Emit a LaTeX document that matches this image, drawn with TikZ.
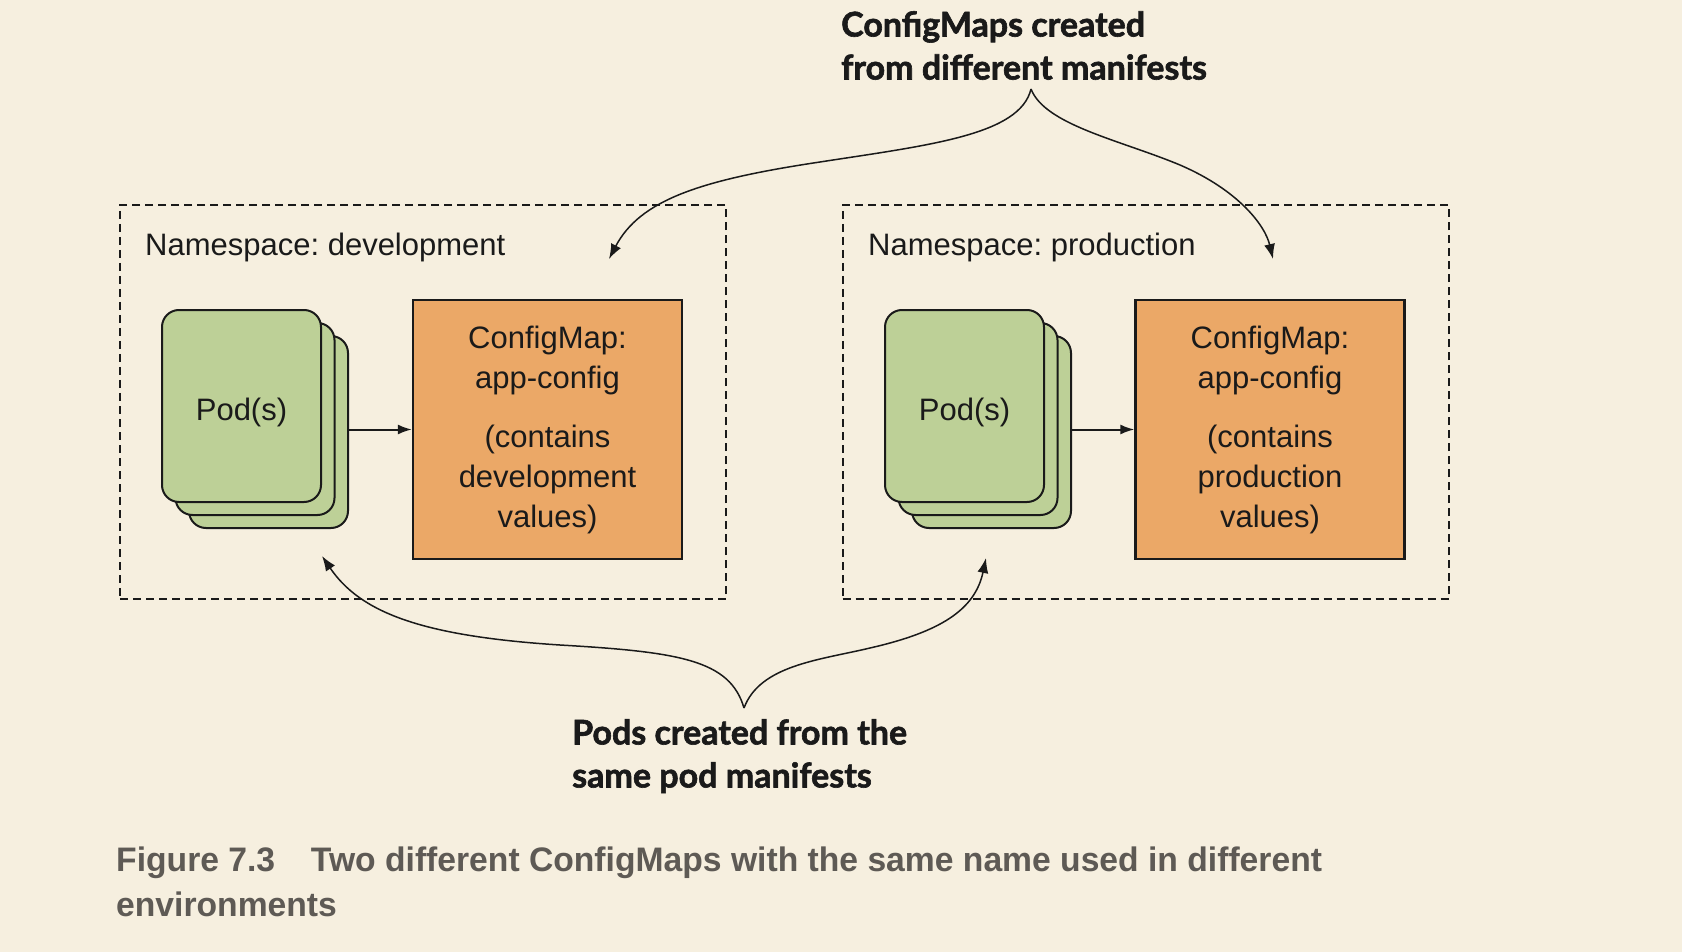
\documentclass[tikz,border=0pt]{standalone}
\usepackage{fontspec}
\setmainfont{Liberation Sans}
\newfontfamily\labelfont[BoldFeatures={FakeBold=1.8}]{Lato}
\newfontfamily\capfont[FakeStretch=0.99]{Liberation Sans Bold}
\usetikzlibrary{arrows.meta}
\definecolor{bg}{HTML}{F6EFDF}
\definecolor{podgreen}{HTML}{BDD097}
\definecolor{cmorange}{HTML}{EBA867}
\definecolor{capgray}{HTML}{5E5A55}
\definecolor{ink}{HTML}{1A1A1A}
\frenchspacing
\tikzset{
  nsbox/.style={draw=ink, line width=2pt, dash pattern=on 8pt off 5pt, minimum width=606pt, minimum height=394pt, inner sep=0pt},
  nslabel/.style={anchor=base west, inner sep=0pt, font=\fontsize{31}{38}\selectfont, text=ink},
  podcard/.style={draw=ink, line width=2pt, fill=podgreen, rounded corners=17pt, minimum width=159pt, minimum height=192pt, inner sep=0pt},
  cmbox/.style={draw=ink, line width=2.2pt, fill=cmorange, minimum width=269pt, minimum height=259pt, inner sep=0pt, align=center, font=\fontsize{31}{40}\selectfont, text=ink},
  bodytext/.style={font=\fontsize{31}{38}\selectfont, text=ink},
  biglabel/.style={anchor=north west, inner sep=0pt, align=left, font=\labelfont\bfseries\fontsize{34}{43}\selectfont, text=ink},
  curvearrow/.style={draw=ink, line width=1.5pt, -{Latex[length=15pt,width=11pt]}},
  podarrow/.style={draw=ink, line width=2pt, -{Latex[length=14pt,width=10pt]}},
}
\begin{document}
\begin{tikzpicture}[x=1pt,y=-1pt]
\useasboundingbox[fill=bg] (0,0) rectangle (1682,952);

% namespaces
\node[nsbox] (nsdev) at (423,402) {};
\node[nsbox] (nsprod) at (1145.5,402) {};
\node[nslabel] (nsdevlbl) at (145,256) {Namespace: development};
\node[nslabel] (nsprodlbl) at (868,256) {Namespace: production};

% dev pods
\node[podcard] (devpodc) at (268.5,432) {};
\node[podcard] (devpodb) at (255,419) {};
\node[podcard] (devpoda) at (241.5,406) {};
\node[bodytext] (devpodtxt) at (241.5,412) {Pod(s)};
\node[cmbox] (devcm) at (547.5,429.5) {ConfigMap:\\app-config\\[19pt](contains\\development\\values)};
\draw[podarrow] (devpodc.east |- devcm.west) -- (devcm.west);

% prod pods
\node[podcard] (prodpodc) at (991.5,432) {};
\node[podcard] (prodpodb) at (978,419) {};
\node[podcard] (prodpoda) at (964.5,406) {};
\node[bodytext] (prodpodtxt) at (964.5,412) {Pod(s)};
\node[cmbox] (prodcm) at (1270,429.5) {ConfigMap:\\app-config\\[19pt](contains\\production\\values)};
\draw[podarrow] (prodpodc.east |- prodcm.west) -- (prodcm.west);

% top label
\node[biglabel] (toplbl) at (841,11) {ConfigMaps created\\from different manifests};
\coordinate (toptip) at (1031,89);
\coordinate (devcmtarget) at (609,259);
\coordinate (prodcmtarget) at (1273,259);
\draw[curvearrow] (toptip) .. controls (1020,135) and (930,145) .. (820,162) .. controls (700,180) and (640,200) .. (devcmtarget);
\draw[curvearrow] (toptip) .. controls (1045,125) and (1120,140) .. (1180,165) .. controls (1238,190) and (1265,225) .. (prodcmtarget);

% bottom label
\node[biglabel] (botlbl) at (572,719) {Pods created from the\\same pod manifests};
\coordinate (bottip) at (744,708);
\coordinate (devpodtarget) at (322,556);
\coordinate (prodpodtarget) at (986,558);
\draw[curvearrow] (bottip) .. controls (730,660) and (680,652) .. (560,645) .. controls (420,636) and (360,612) .. (devpodtarget);
\draw[curvearrow] (bottip) .. controls (760,665) and (820,660) .. (870,648) .. controls (940,632) and (975,610) .. (prodpodtarget);

% caption
\node[anchor=north west, inner sep=0pt, align=left, text=capgray, font=\capfont\fontsize{34}{45}\selectfont] (caption) at (116,847) {Figure 7.3\hspace{1.05em}Two different ConfigMaps with the same name used in different\\environments};
\end{tikzpicture}
\end{document}
